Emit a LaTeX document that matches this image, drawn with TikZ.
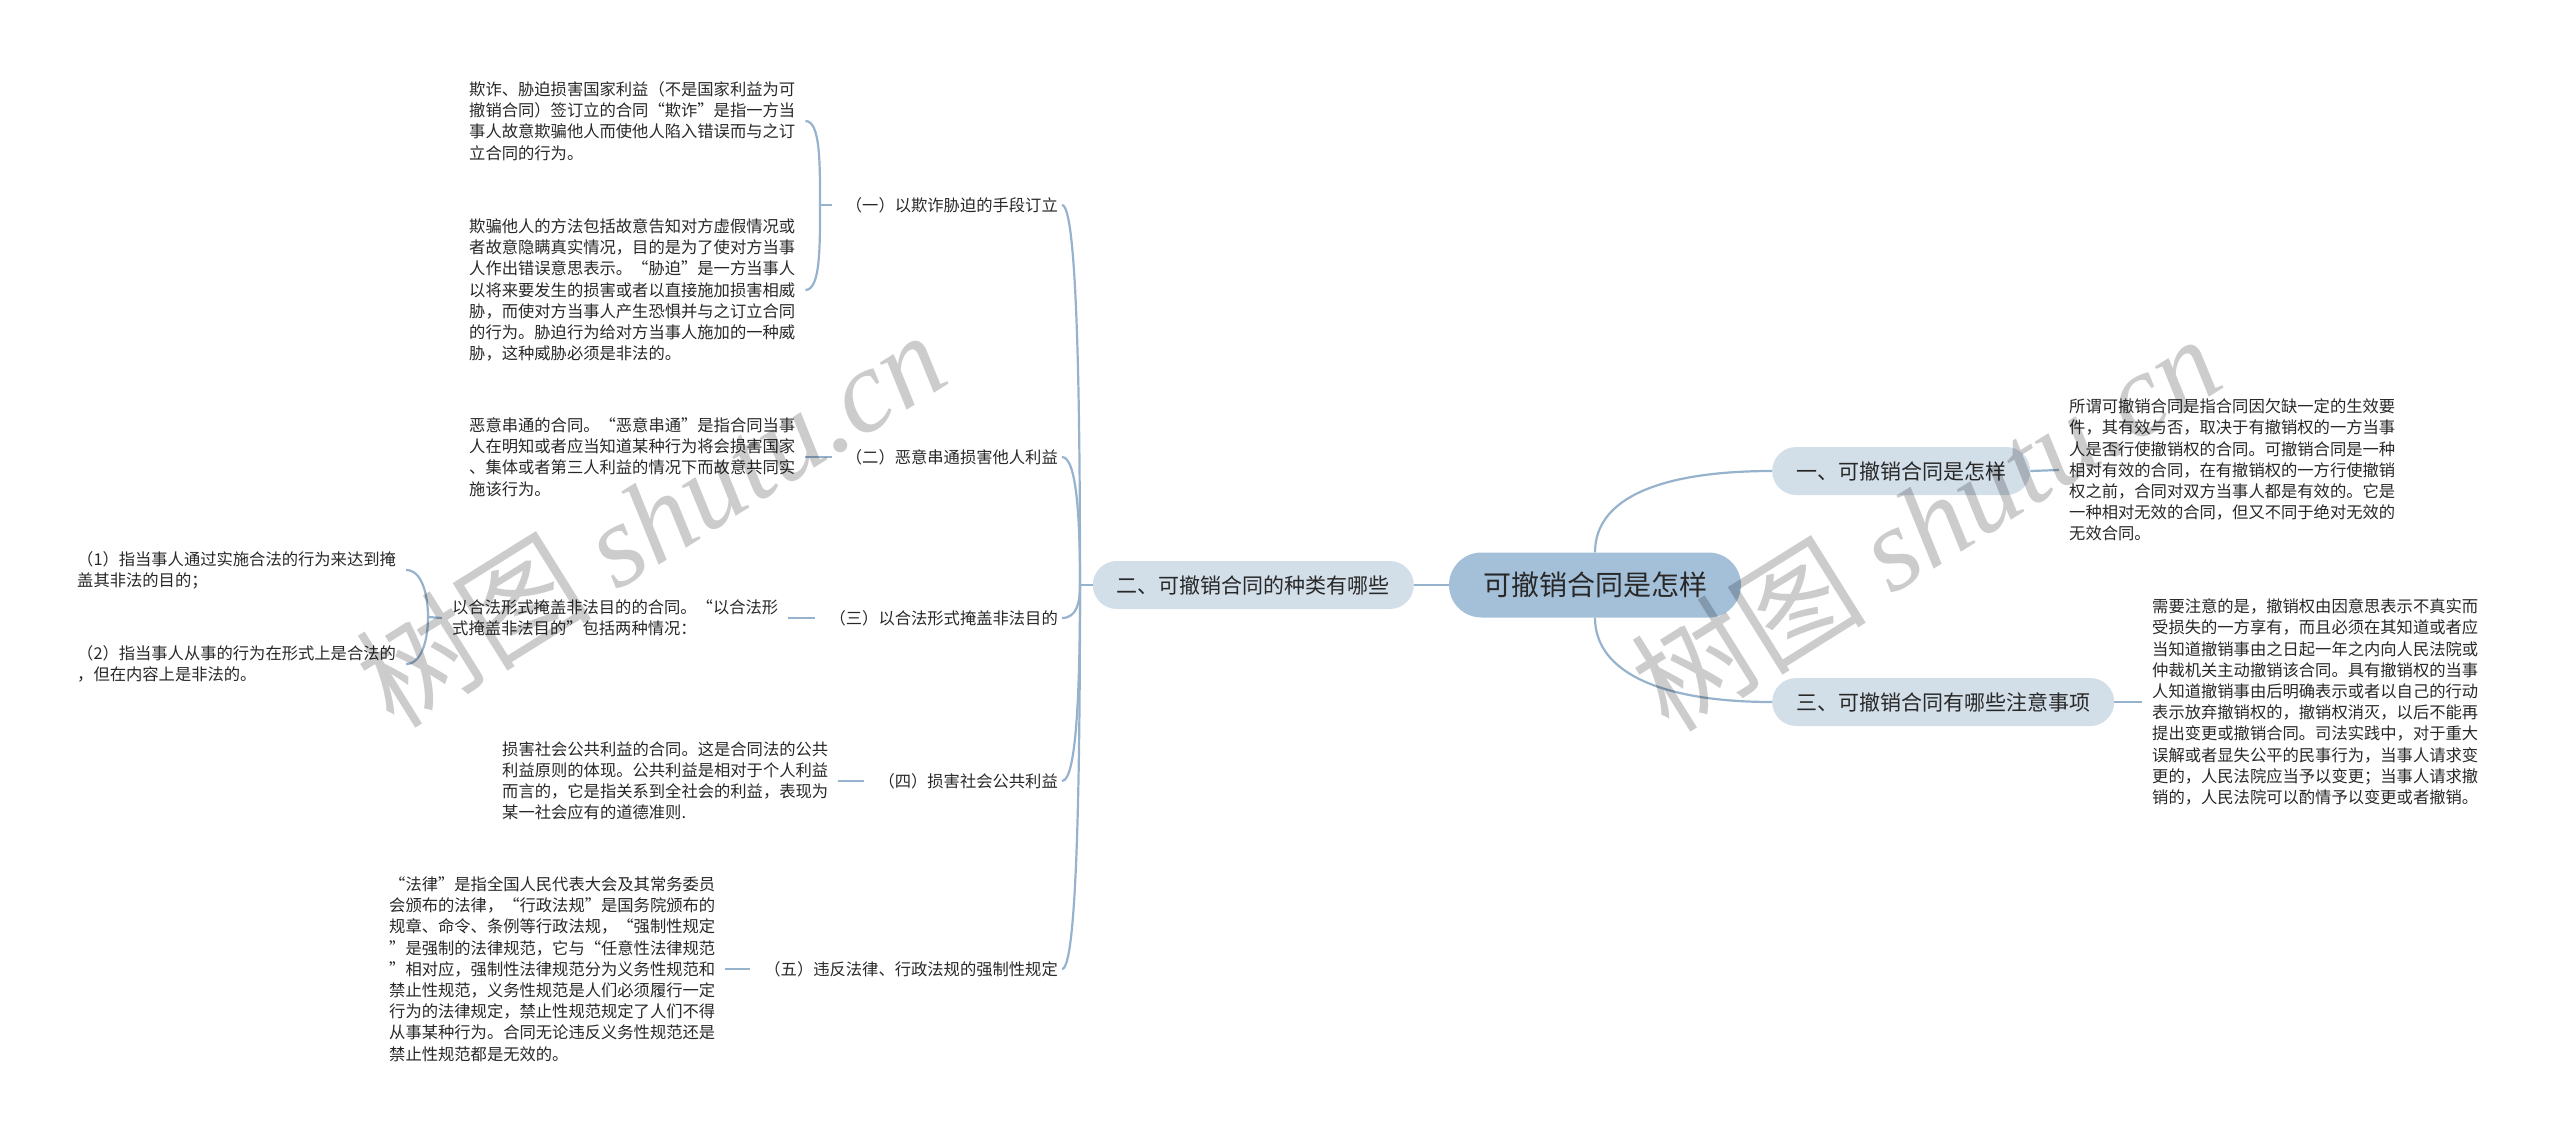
\documentclass[tikz,border=0pt]{standalone}
\usepackage{fontspec}
\setmainfont{Noto Sans CJK SC}
\newfontfamily\wmfont{Liberation Serif}
\usepackage{tikz}
\usetikzlibrary{calc}
\definecolor{linkblue}{RGB}{150,178,205}
\definecolor{rootblue}{RGB}{164,192,217}
\definecolor{topicblue}{RGB}{210,222,232}
\definecolor{inkgray}{RGB}{40,40,40}
\tikzstyle{link}=[line width=2.2,draw=linkblue]
\tikzstyle{root}=[rounded corners=32.5,fill=rootblue,minimum height=65,inner xsep=34,text=inkgray,font=\fontsize{28}{34}\selectfont]
\tikzstyle{topic}=[rounded corners=24,fill=topicblue,minimum height=48,inner xsep=24,text=inkgray,font=\fontsize{21}{26}\selectfont]
\tikzstyle{sub}=[inner xsep=4,inner ysep=2,text=inkgray,font=\fontsize{16.3}{21.2}\selectfont]
\tikzstyle{leaf}=[inner xsep=10,inner ysep=2,align=left,text=inkgray,font=\fontsize{16.3}{21.2}\selectfont]
\tikzstyle{wm}=[text=black,text opacity=0.2,font=\fontsize{118}{118}\selectfont]
\tikzset{into sub/.style={shorten >=10}}

\begin{document}
\begin{tikzpicture}[x=1pt,y=-1pt]
	\useasboundingbox (0,0) rectangle (2560,1141);
	\def\hubx{1080} % spine of the left branch
	\def\subx{1062} % right end of the left labels

	% Centre and main topics
	\node[root] (root) at (1595,585) {可撤销合同是怎样};
	\node[topic,anchor=west] (t1) at (1772,471) {一、可撤销合同是怎样};
	\node[topic,anchor=west] (t3) at (1772,702) {三、可撤销合同有哪些注意事项};
	\node[topic,anchor=east] (t2) at (1414,585) {二、可撤销合同的种类有哪些};

	% Right hand texts
	\node[leaf,anchor=west] (d1) at (2059,470) {所谓可撤销合同是指合同因欠缺一定的生效要\\件，其有效与否，取决于有撤销权的一方当事\\人是否行使撤销权的合同。可撤销合同是一种\\相对有效的合同，在有撤销权的一方行使撤销\\权之前，合同对双方当事人都是有效的。它是\\一种相对无效的合同，但又不同于绝对无效的\\无效合同。};
	\node[leaf,anchor=west] (d3) at (2142,702) {需要注意的是，撤销权由因意思表示不真实而\\受损失的一方享有，而且必须在其知道或者应\\当知道撤销事由之日起一年之内向人民法院或\\仲裁机关主动撤销该合同。具有撤销权的当事\\人知道撤销事由后明确表示或者以自己的行动\\表示放弃撤销权的，撤销权消灭，以后不能再\\提出变更或撤销合同。司法实践中，对于重大\\误解或者显失公平的民事行为，当事人请求变\\更的，人民法院应当予以变更；当事人请求撤\\销的，人民法院可以酌情予以变更或者撤销。};

	% Kinds (left branch)
	\node[sub,anchor=east] (s1) at (\subx,205) {（一）以欺诈胁迫的手段订立};
	\node[sub,anchor=east] (s2) at (\subx,457) {（二）恶意串通损害他人利益};
	\node[sub,anchor=east] (s3) at (\subx,618) {（三）以合法形式掩盖非法目的};
	\node[sub,anchor=east] (s4) at (\subx,781) {（四）损害社会公共利益};
	\node[sub,anchor=east] (s5) at (\subx,969) {（五）违反法律、行政法规的强制性规定};

	\node[leaf,anchor=west] (a1) at (459,121) {欺诈、胁迫损害国家利益（不是国家利益为可\\撤销合同）签订立的合同“欺诈”是指一方当\\事人故意欺骗他人而使他人陷入错误而与之订\\立合同的行为。};
	\node[leaf,anchor=west] (a2) at (459,290) {欺骗他人的方法包括故意告知对方虚假情况或\\者故意隐瞒真实情况，目的是为了使对方当事\\人作出错误意思表示。“胁迫”是一方当事人\\以将来要发生的损害或者以直接施加损害相威\\胁，而使对方当事人产生恐惧并与之订立合同\\的行为。胁迫行为给对方当事人施加的一种威\\胁，这种威胁必须是非法的。};
	\node[leaf,anchor=west] (b1) at (459,457) {恶意串通的合同。“恶意串通”是指合同当事\\人在明知或者应当知道某种行为将会损害国家\\、集体或者第三人利益的情况下而故意共同实\\施该行为。};
	\node[leaf,anchor=west] (c1) at (442,618) {以合法形式掩盖非法目的的合同。“以合法形\\式掩盖非法目的”包括两种情况：};
	\node[leaf,anchor=west] (c11) at (67,570) {（1）指当事人通过实施合法的行为来达到掩\\盖其非法的目的；};
	\node[leaf,anchor=west] (c12) at (67,664) {（2）指当事人从事的行为在形式上是合法的\\，但在内容上是非法的。};
	\node[leaf,anchor=west] (e1) at (492,781) {损害社会公共利益的合同。这是合同法的公共\\利益原则的体现。公共利益是相对于个人利益\\而言的，它是指关系到全社会的利益，表现为\\某一社会应有的道德准则.};
	\node[leaf,anchor=west] (f1) at (379,969) {“法律”是指全国人民代表大会及其常务委员\\会颁布的法律，“行政法规”是国务院颁布的\\规章、命令、条例等行政法规，“强制性规定\\”是强制的法律规范，它与“任意性法律规范\\”相对应，强制性法律规范分为义务性规范和\\禁止性规范，义务性规范是人们必须履行一定\\行为的法律规定，禁止性规范规定了人们不得\\从事某种行为。合同无论违反义务性规范还是\\禁止性规范都是无效的。};

	\coordinate (hub) at (\hubx,585);
	\coordinate (hub1) at (820,205);
	\coordinate (hub3) at (428,617);

	% Links from the centre
	\draw[link] (root.west) -- (t2.east);
	\draw[link] (root.north) .. controls +(0,-55) and +(-110,0) .. (t1.west);
	\draw[link] (root.south) .. controls +(0,55) and +(-110,0) .. (t3.west);
	\draw[link] (t1.east) -- (d1.west);
	\draw[link] (t3.east) -- (d3.west);

	% Spine of the left branch
	\draw[link] (hub) -- (t2.west);
	\draw[link] (s1.east) .. controls +(15,0) and +(0,-190) .. (hub);
	\draw[link] (s2.east) .. controls +(15,0) and +(0,-64) .. (hub);
	\draw[link] (s3.east) .. controls +(15,0) and +(0,17) .. (hub);
	\draw[link] (s4.east) .. controls +(15,0) and +(0,98) .. (hub);
	\draw[link] (s5.east) .. controls +(15,0) and +(0,192) .. (hub);

	% Leaves
	\draw[link] (a1.east) .. controls +(15,0) and +(0,-42) .. (hub1);
	\draw[link] (a2.east) .. controls +(15,0) and +(0,42) .. (hub1);
	\draw[link,into sub] (hub1) -- (s1.west);
	\draw[link,into sub] (b1.east) -- (s2.west);
	\draw[link,into sub] (c1.east) -- (s3.west);
	\draw[link,into sub] (e1.east) -- (s4.west);
	\draw[link,into sub] (f1.east) -- (s5.west);
	\draw[link] (c11.east) .. controls +(15,0) and +(0,-24) .. (hub3);
	\draw[link] (c12.east) .. controls +(15,0) and +(0,24) .. (hub3);
	\draw[link] (hub3) -- (c1.west);

	% Watermarks
	\node[wm,rotate=32] (wm1) at (650,518) {树图 {\wmfont\itshape shutu.cn}};
	\node[wm,rotate=32] (wm2) at (1925,522) {树图 {\wmfont\itshape shutu.cn}};
\end{tikzpicture}
\end{document}
